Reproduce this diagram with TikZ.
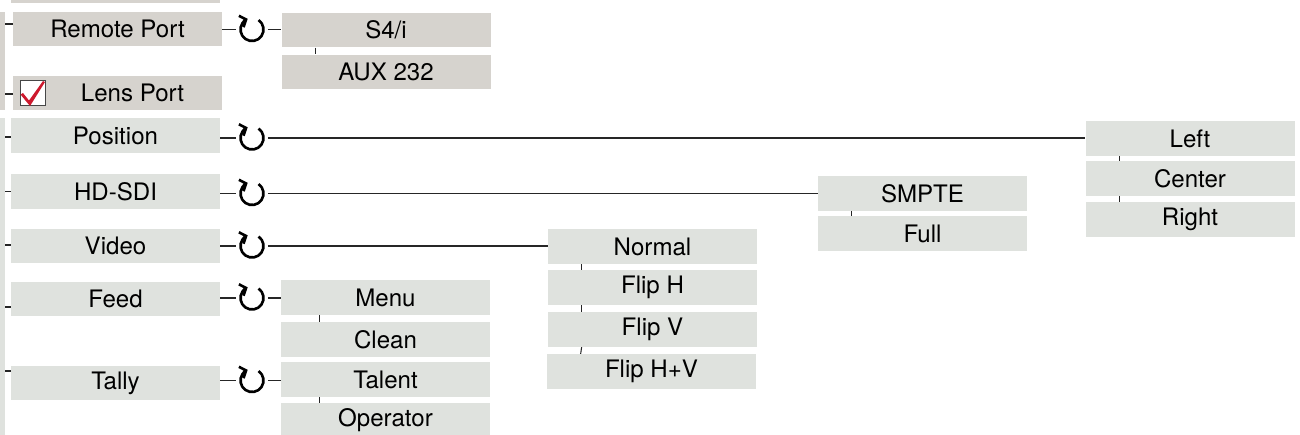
\documentclass[tikz,border=0pt]{standalone}
\usepackage{fontspec}
\setmainfont{TeX Gyre Heros}
\usetikzlibrary{arrows.meta}

\definecolor{boxwarm}{RGB}{214,211,206}
\definecolor{boxgreen}{RGB}{223,226,222}
\definecolor{boxedge}{RGB}{70,70,70}
\definecolor{checkred}{RGB}{205,25,45}

\tikzset{
	menubox/.style={fill=#1, minimum width=4.18cm, minimum height=0.69cm, inner sep=0pt, font=\fontsize{13.7}{16}\selectfont},
	menubox/.default=boxgreen,
	spin/.style={circle, minimum size=0.62cm, inner sep=0pt},
	spinarc/.style={line width=1.5pt, -{Straight Barb[length=3pt, width=7pt]}},
	link/.style={line width=0.6pt, black!85},
}

% the round arrow inside a spin node
\newcommand{\spinat}[1]{\draw[spinarc] ([shift={(55:0.23)}]#1.center) arc[start angle=55, end angle=-248, radius=0.23];}
% short tick between two stacked choices
\newcommand{\stacklink}[2]{\draw[link] ([xshift=0.68cm]#1.south west) -- ([xshift=0.68cm]#2.north west);}

\begin{document}
\begin{tikzpicture}
	\clip (0,0) rectangle (26,-8.68);

	% group bars on the left
	\node[fill=boxwarm, minimum width=0.1cm, minimum height=1.96cm, inner sep=0pt] (grpremote) at (0.05,-1.22) {};
	\node[fill=boxgreen, minimum width=0.1cm, minimum height=6.4cm, inner sep=0pt] (grpcamera) at (0.05,-5.56) {};

	% menu items
	\node[menubox=boxwarm] (prev) at (2.31,0.285) {};
	\node[menubox=boxwarm] (remote) at (2.35,-0.58) {Remote Port};
	\node[menubox=boxwarm] (lens) at (2.35,-1.86) {\hspace{0.6cm}Lens Port};
	\node[menubox] (position) at (2.31,-2.71) {Position};
	\node[menubox] (hdsdi) at (2.31,-3.83) {HD-SDI};
	\node[menubox] (video) at (2.31,-4.92) {Video};
	\node[menubox] (feed) at (2.31,-5.98) {Feed};
	\node[menubox] (tally) at (2.31,-7.66) {Tally};

	% checkbox
	\node[draw=boxedge, fill=white, line width=0.5pt, minimum size=0.5cm, inner sep=0pt] (chk) at (0.65,-1.86) {};
	\fill[checkred] ([shift={(-0.24,-0.03)}]chk.center) -- ([shift={(-0.19,0)}]chk.center)
		-- ([shift={(-0.07,-0.15)}]chk.center) -- ([shift={(0.21,0.24)}]chk.center)
		-- ([shift={(0.25,0.22)}]chk.center) -- ([shift={(-0.05,-0.26)}]chk.center) -- cycle;

	% ticks to the group bars
	\draw[link] ([yshift=0.1cm]remote.west) -- +(-0.16,0);
	\draw[link] ([yshift=-0.02cm]lens.west) -- +(-0.16,0);
	\foreach \n/\dy in {position/-0.03, hdsdi/0, video/0.02, feed/-0.16, tally/0.24}
		\draw[link] ([yshift=\dy cm]\n.west) -- +(-0.12,0);

	% spin symbols
	\node[spin] (remote-s) at (5.04,-0.59) {};
	\node[spin] (position-s) at (5.04,-2.76) {};
	\node[spin] (hdsdi-s) at (5.04,-3.87) {};
	\node[spin] (video-s) at (5.04,-4.92) {};
	\node[spin] (feed-s) at (5.04,-5.96) {};
	\node[spin] (tally-s) at (5.04,-7.61) {};
	\foreach \n in {remote-s, position-s, hdsdi-s, video-s, feed-s, tally-s} {
		\spinat{\n}
	}

	% choices
	\node[menubox=boxwarm] (s4i) at (7.72,-0.60) {S4/i};
	\node[menubox=boxwarm] (aux) at (7.72,-1.44) {AUX 232};

	\node[menubox] (left) at (23.8,-2.77) {Left};
	\node[menubox] (center) at (23.8,-3.57) {Center};
	\node[menubox] (right) at (23.8,-4.39) {Right};

	\node[menubox] (smpte) at (18.45,-3.87) {SMPTE};
	\node[menubox] (full) at (18.45,-4.67) {Full};

	\node[menubox] (normal) at (13.05,-4.93) {Normal};
	\node[menubox] (fliph) at (13.05,-5.75) {Flip H};
	\node[menubox] (flipv) at (13.05,-6.59) {Flip V};
	\node[menubox] (fliphv) at (13.03,-7.43) {Flip H+V};

	\node[menubox] (menu) at (7.71,-5.95) {Menu};
	\node[menubox] (clean) at (7.71,-6.79) {Clean};
	\node[menubox] (talent) at (7.71,-7.59) {Talent};
	\node[menubox] (operator) at (7.71,-8.41) {Operator};

	% lines item -> spin -> first choice
	\foreach \n/\c in {remote/s4i, position/left, hdsdi/smpte, video/normal, feed/menu, tally/talent} {
		\draw[link] (\n.east |- \n-s) -- (\n-s);
		\draw[link] (\n-s) -- (\n-s -| \c.west);
	}

	\stacklink{s4i}{aux}
	\stacklink{left}{center}
	\stacklink{center}{right}
	\stacklink{smpte}{full}
	\stacklink{normal}{fliph}
	\stacklink{fliph}{flipv}
	\stacklink{flipv}{fliphv}
	\draw[link] ([xshift=0.78cm]menu.south west) -- ([xshift=0.78cm]clean.north west);
	\draw[link] ([xshift=0.78cm]talent.south west) -- ([xshift=0.78cm]operator.north west);
\end{tikzpicture}
\end{document}
